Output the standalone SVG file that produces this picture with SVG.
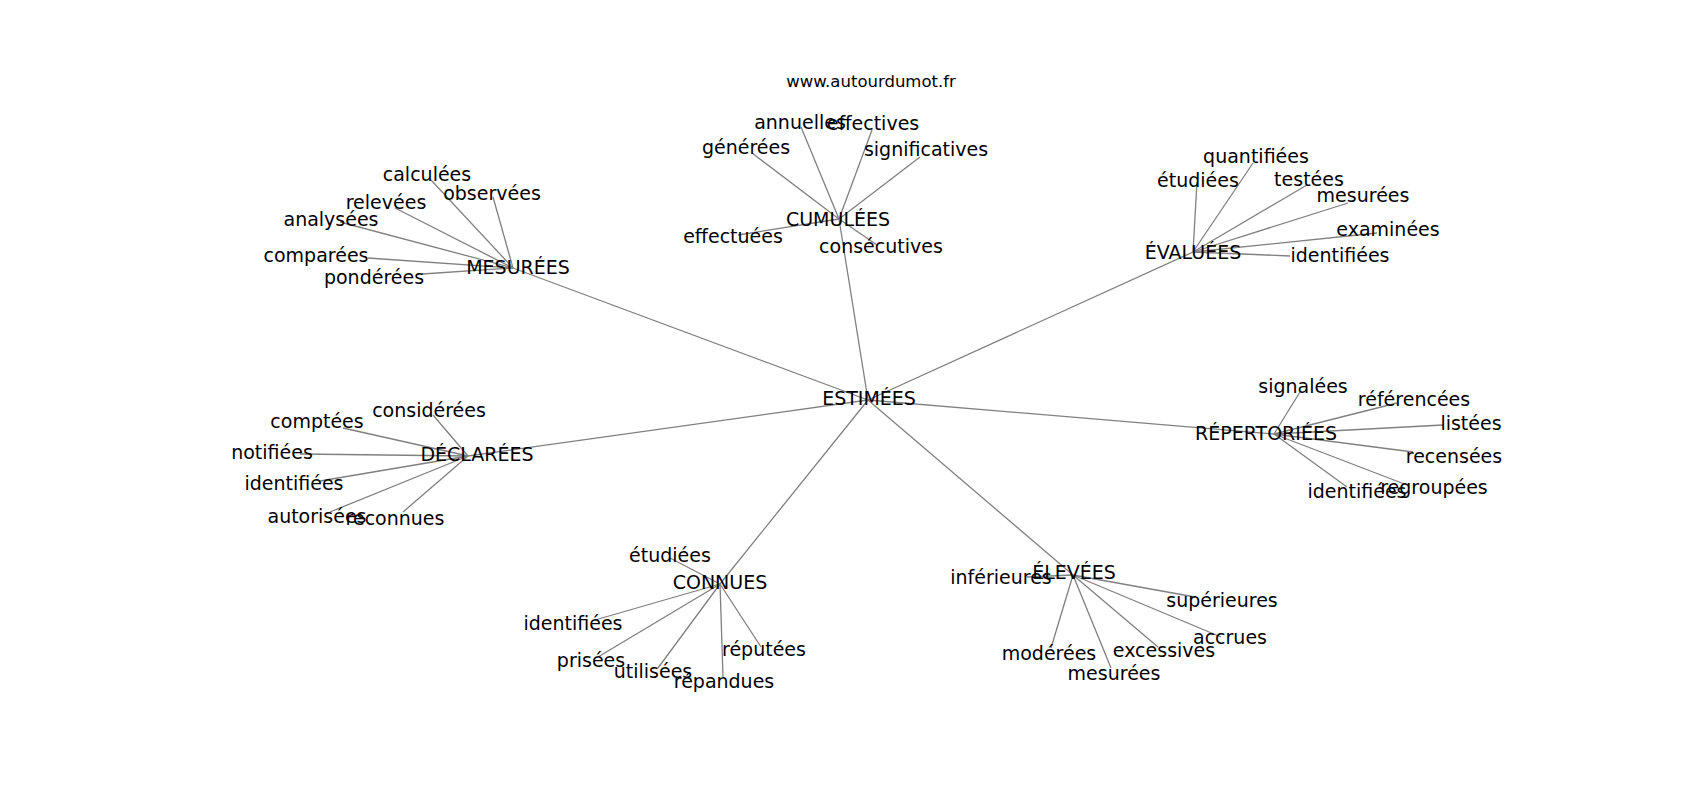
<svg xmlns="http://www.w3.org/2000/svg" width="1700" height="800" viewBox="0 0 1700 800">
<style>
text{font-family:"DejaVu Sans","Liberation Sans",sans-serif;font-size:19px;fill:#000;text-anchor:middle}
.title{font-size:16.5px}
#edges line{stroke:#808080;stroke-width:1.3}
</style>
<rect width="1700" height="800" fill="#fff"/>
<g id="edges">
<line x1="868" y1="400" x2="513" y2="268"/>
<line x1="868" y1="400" x2="839" y2="219"/>
<line x1="868" y1="400" x2="1193" y2="252"/>
<line x1="868" y1="400" x2="468" y2="456"/>
<line x1="868" y1="400" x2="1274" y2="434"/>
<line x1="868" y1="400" x2="720" y2="584"/>
<line x1="868" y1="400" x2="1073" y2="575"/>
<line x1="513" y1="268" x2="431" y2="180"/>
<line x1="513" y1="268" x2="493" y2="197"/>
<line x1="513" y1="268" x2="395" y2="208"/>
<line x1="513" y1="268" x2="340" y2="222"/>
<line x1="513" y1="268" x2="368" y2="258"/>
<line x1="513" y1="268" x2="422" y2="274"/>
<line x1="839" y1="219" x2="801" y2="127"/>
<line x1="839" y1="219" x2="872" y2="130"/>
<line x1="839" y1="219" x2="752" y2="153"/>
<line x1="839" y1="219" x2="920" y2="157"/>
<line x1="839" y1="219" x2="738" y2="235"/>
<line x1="839" y1="219" x2="877" y2="245"/>
<line x1="1193" y1="252" x2="1197" y2="182"/>
<line x1="1193" y1="252" x2="1253" y2="163"/>
<line x1="1193" y1="252" x2="1307" y2="185"/>
<line x1="1193" y1="252" x2="1348" y2="203"/>
<line x1="1193" y1="252" x2="1377" y2="233"/>
<line x1="1193" y1="252" x2="1290" y2="256"/>
<line x1="468" y1="456" x2="433" y2="415"/>
<line x1="468" y1="456" x2="343" y2="428"/>
<line x1="468" y1="456" x2="300" y2="454"/>
<line x1="468" y1="456" x2="320" y2="481"/>
<line x1="468" y1="456" x2="330" y2="512"/>
<line x1="468" y1="456" x2="403" y2="512"/>
<line x1="1274" y1="434" x2="1300" y2="392"/>
<line x1="1274" y1="434" x2="1397" y2="403"/>
<line x1="1274" y1="434" x2="1443" y2="425"/>
<line x1="1274" y1="434" x2="1413" y2="452"/>
<line x1="1274" y1="434" x2="1347" y2="487"/>
<line x1="1274" y1="434" x2="1407" y2="485"/>
<line x1="720" y1="584" x2="670" y2="558"/>
<line x1="720" y1="584" x2="595" y2="620"/>
<line x1="720" y1="584" x2="598" y2="657"/>
<line x1="720" y1="584" x2="658" y2="668"/>
<line x1="720" y1="584" x2="723" y2="677"/>
<line x1="720" y1="584" x2="761" y2="647"/>
<line x1="1073" y1="575" x2="1027" y2="577"/>
<line x1="1073" y1="575" x2="1195" y2="597"/>
<line x1="1073" y1="575" x2="1221" y2="637"/>
<line x1="1073" y1="575" x2="1158" y2="647"/>
<line x1="1073" y1="575" x2="1051" y2="648"/>
<line x1="1073" y1="575" x2="1111" y2="668"/>
</g>
<text class="title" x="871" y="87">www.autourdumot.fr</text>
<g id="n-estimees"><text x="869" y="405">ESTIMÉES</text></g>
<g id="n-mesurees"><text x="518" y="274">MESURÉES</text></g>
<g id="n-cumulees"><text x="838" y="226">CUMULÉES</text></g>
<g id="n-evaluees"><text x="1193" y="259">ÉVALUÉES</text></g>
<g id="n-declarees"><text x="477" y="461">DÉCLARÉES</text></g>
<g id="n-repertoriees"><text x="1266" y="440">RÉPERTORIÉES</text></g>
<g id="n-connues"><text x="720" y="589">CONNUES</text></g>
<g id="n-elevees"><text x="1074" y="579">ÉLEVÉES</text></g>
<g id="n-calculees"><text x="427" y="181">calculées</text></g>
<g id="n-observees"><text x="492" y="200">observées</text></g>
<g id="n-relevees"><text x="386" y="209">relevées</text></g>
<g id="n-analysees"><text x="331" y="226">analysées</text></g>
<g id="n-comparees"><text x="316" y="262">comparées</text></g>
<g id="n-ponderees"><text x="374" y="284">pondérées</text></g>
<g id="n-annuelles"><text x="800" y="129">annuelles</text></g>
<g id="n-effectives"><text x="873" y="130">effectives</text></g>
<g id="n-generees"><text x="746" y="154">générées</text></g>
<g id="n-significatives"><text x="926" y="156">significatives</text></g>
<g id="n-effectuees"><text x="733" y="243">effectuées</text></g>
<g id="n-consecutives"><text x="881" y="253">consécutives</text></g>
<g id="n-etudiees1"><text x="1198" y="187">étudiées</text></g>
<g id="n-quantifiees"><text x="1256" y="163">quantifiées</text></g>
<g id="n-testees"><text x="1309" y="186">testées</text></g>
<g id="n-mesurees1"><text x="1363" y="202">mesurées</text></g>
<g id="n-examinees"><text x="1388" y="236">examinées</text></g>
<g id="n-identifiees1"><text x="1340" y="262">identifiées</text></g>
<g id="n-considerees"><text x="429" y="417">considérées</text></g>
<g id="n-comptees"><text x="317" y="428">comptées</text></g>
<g id="n-notifiees"><text x="272" y="459">notifiées</text></g>
<g id="n-identifiees2"><text x="294" y="490">identifiées</text></g>
<g id="n-autorisees"><text x="317" y="523">autorisées</text></g>
<g id="n-reconnues"><text x="395" y="525">reconnues</text></g>
<g id="n-signalees"><text x="1303" y="393">signalées</text></g>
<g id="n-referencees"><text x="1414" y="406">référencées</text></g>
<g id="n-listees"><text x="1471" y="430">listées</text></g>
<g id="n-recensees"><text x="1454" y="463">recensées</text></g>
<g id="n-identifiees3"><text x="1357" y="498">identifiées</text></g>
<g id="n-regroupees"><text x="1434" y="494">regroupées</text></g>
<g id="n-etudiees2"><text x="670" y="562">étudiées</text></g>
<g id="n-identifiees4"><text x="573" y="630">identifiées</text></g>
<g id="n-prisees"><text x="591" y="667">prisées</text></g>
<g id="n-utilisees"><text x="653" y="678">utilisées</text></g>
<g id="n-repandues"><text x="724" y="688">répandues</text></g>
<g id="n-reputees"><text x="764" y="656">réputées</text></g>
<g id="n-inferieures"><text x="1001" y="584">inférieures</text></g>
<g id="n-superieures"><text x="1222" y="607">supérieures</text></g>
<g id="n-accrues"><text x="1230" y="644">accrues</text></g>
<g id="n-excessives"><text x="1164" y="657">excessives</text></g>
<g id="n-moderees"><text x="1049" y="660">modérées</text></g>
<g id="n-mesurees2"><text x="1114" y="680">mesurées</text></g>
</svg>
